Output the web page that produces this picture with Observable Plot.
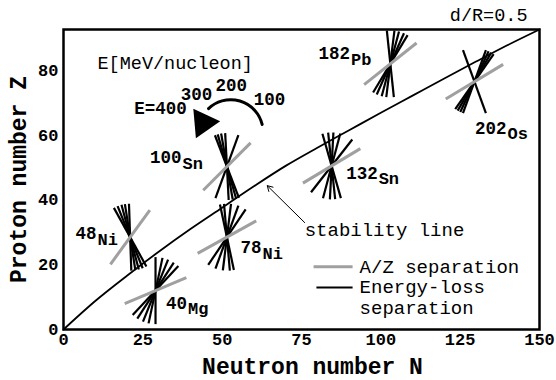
<!DOCTYPE html>
<html><head><meta charset="utf-8">
<script src="https://cdn.jsdelivr.net/npm/d3@7"></script>
<script src="https://cdn.jsdelivr.net/npm/@observablehq/plot@0.6"></script>
<style>body{margin:0;background:#fff} #chart{width:556px;height:380px}</style>
</head><body><div id="chart"></div>
<script>
// ---- data ----
const massNumbers = ["48","40","78","100","132","182","202"];
const elements    = ["Ni","Mg","Ni","Sn","Sn","Pb","Os"];
const neutronN    = [21, 29, 51.5, 51.5, 84.5, 103, 129.5];
const protonZ     = [28.5, 12, 28.5, 50.3, 50.5, 82, 76.5];
const azAngle     = [54, 23, 29, 45, 31, 38.5, 31];          // A/Z separation line angle (deg)
const elossAngles = [                                          // energy-loss separation line angles (deg)
  [92, 99, 105, 112, 119],
  [47, 57, 68, 78, 90],
  [56, 70, 83, 95, 102],
  [70, 93, 100, 106, 111],
  [52, 75, 87, 96, 106],
  [59, 66, 75, 83, 96],
  [55, 60, 65, 70, 110]
];
const labelN = [10.4, 38.9, 62.4, 37.2, 99, 90.3, 139.6];
const labelZ = [29.6, 8.2, 25.2, 53.1, 48.3, 85.2, 62.2];

const stabilityN = [0, 10, 20, 30, 40, 50, 60, 70, 80, 90, 100, 110, 120, 130, 140, 150];
const stabilityZ = [0, 8.8, 16.6, 24.0, 31.0, 37.6, 44.2, 50.5, 56.1, 61.5, 66.9, 72.2, 77.5, 82.7, 87.8, 92.6];

const xTicks = [0, 25, 50, 75, 100, 125, 150];
const yTicks = [0, 20, 40, 60, 80];

const energyLabels = ["E=400", "300", "200", "100"];
const energyN = [30.6, 41.9, 52.9, 64.9];
const energyZ = [68.2, 72.5, 75.3, 71];

const legendLabels = ["A/Z separation", "Energy-loss", "separation"];
const legendZ = [19.4, 13.0, 6.8];

// ---- layout ----
const W = 556, H = 380, mL = 63, mR = 17, mT = 29, mB = 51;
const xDom = [0, 150], yDom = [0, 92.6];
const kx = (W - mL - mR) / (xDom[1] - xDom[0]);
const ky = (H - mT - mB) / (yDom[1] - yDom[0]);
const halfLen = 33.5;
function seg(n, z, a) {
  const r = a * Math.PI / 180;
  const dn = Math.cos(r) * halfLen / kx, dz = Math.sin(r) * halfLen / ky;
  return {x1: n - dn, y1: z - dz, x2: n + dn, y2: z + dz};
}
const grayLines = neutronN.map((n, i) => seg(n, protonZ[i], azAngle[i]));
const blackLines = neutronN.flatMap((n, i) => elossAngles[i].map(a => seg(n, protonZ[i], a)));
const stability = stabilityN.map((n, i) => ({n, z: stabilityZ[i]}));
const labels = massNumbers.map((m, i) => ({m, el: elements[i], n: labelN[i], z: labelZ[i]}));
const energies = energyLabels.map((t, i) => ({t, n: energyN[i], z: energyZ[i]}));
const legendRows = legendLabels.map((t, i) => ({t, z: legendZ[i]}));

const mono = "'Liberation Mono', 'Courier New', monospace";

const chart = Plot.plot({
  width: W, height: H,
  marginLeft: mL, marginRight: mR, marginTop: mT, marginBottom: mB,
  style: {fontFamily: mono, fontSize: "17px", fontWeight: "bold", color: "black", background: "white"},
  x: {domain: xDom, ticks: xTicks, tickSize: 0, tickPadding: 3, label: null},
  y: {domain: yDom, ticks: yTicks, tickSize: 0, tickPadding: 5, label: null},
  marks: [
    Plot.line(stability, {x: "n", y: "z", stroke: "black", strokeWidth: 1.8, curve: "catmull-rom"}),
    Plot.link(blackLines, {x1: "x1", y1: "y1", x2: "x2", y2: "y2", stroke: "black", strokeWidth: 2.2}),
    Plot.link(grayLines, {x1: "x1", y1: "y1", x2: "x2", y2: "y2", stroke: "#a0a0a0", strokeWidth: 3}),
    Plot.text(labels, {x: "n", y: "z", text: "m", textAnchor: "end", fontSize: 17.5, fontWeight: "bold"}),
    Plot.text(labels, {x: "n", y: "z", text: "el", textAnchor: "start", dy: 6, dx: 1, fontSize: 17, fontWeight: "bold"}),
    Plot.text(energies, {x: "n", y: "z", text: "t", fontSize: 17.5, fontWeight: "bold"}),
    Plot.text(["E[MeV/nucleon]"], {x: 35.2, y: 82.3, fontSize: 18.5, fontWeight: "normal"}),
    Plot.arrow([0], {x1: 62.6, y1: 63.3, x2: 45.7, y2: 68.2, bend: -60, headLength: 0, stroke: "black", strokeWidth: 3}),
    Plot.dot([0], {x: 44, y: 63.8, symbol: "triangle", r: 11, rotate: 205, fill: "black", stroke: "none"}),
    Plot.arrow([0], {x1: 76, y1: 33, x2: 64.2, y2: 44.4, stroke: "black", strokeWidth: 1, headLength: 9}),
    Plot.text(["stability line"], {x: 76, y: 30.6, textAnchor: "start", fontSize: 19, fontWeight: "normal"}),
    Plot.link([0], {x1: 78.8, x2: 91.1, y1: legendZ[0], y2: legendZ[0], stroke: "#a0a0a0", strokeWidth: 3}),
    Plot.link([0], {x1: 79.7, x2: 91.1, y1: legendZ[1], y2: legendZ[1], stroke: "black", strokeWidth: 2}),
    Plot.text(legendRows, {x: 93.3, y: "z", text: "t", textAnchor: "start", fontSize: 19, fontWeight: "normal"}),
    Plot.text(["d/R=0.5"], {frameAnchor: "top-right", dx: -12, dy: -14, textAnchor: "end", lineAnchor: "middle", fontSize: 18.5, fontWeight: "normal"}),
    Plot.text(["Neutron number N"], {frameAnchor: "bottom", dx: 11, dy: 37, textAnchor: "middle", lineAnchor: "middle", fontSize: 23, fontWeight: "bold"}),
    Plot.text(["Proton number Z"], {frameAnchor: "left", dx: -45, rotate: -90, textAnchor: "middle", lineAnchor: "middle", fontSize: 23, fontWeight: "bold"}),
    Plot.frame({stroke: "black", strokeWidth: 2.5})
  ]
});
document.getElementById("chart").append(chart);
</script>
</body></html>
